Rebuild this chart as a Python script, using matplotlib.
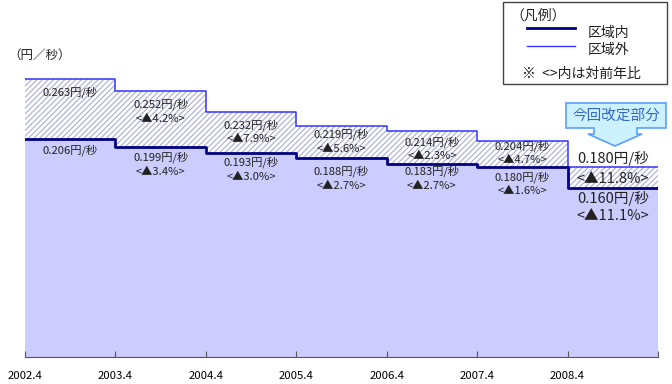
import numpy as np
import matplotlib
matplotlib.use("Agg")
import matplotlib.pyplot as plt
from matplotlib.patches import Polygon, Rectangle
from matplotlib.lines import Line2D

plt.rcParams['font.family'] = ['Noto Sans CJK JP', 'DejaVu Sans']
plt.rcParams['hatch.linewidth'] = 0.8

# data (yen per second)
periods = ['2002.4', '2003.4', '2004.4', '2005.4', '2006.4', '2007.4', '2008.4']
inner = [0.206, 0.199, 0.193, 0.188, 0.183, 0.180, 0.160]
outer = [0.263, 0.252, 0.232, 0.219, 0.214, 0.204, 0.180]
inner_chg = [None, '3.4', '3.0', '2.7', '2.7', '1.6', '11.1']
outer_chg = [None, '4.2', '7.9', '5.6', '2.3', '4.7', '11.8']

# label drop below each step line (pixels), as placed in the original
outer_drop = [13, 14, 13, 8.5, 11, 4.5]
inner_drop = [11, 11, 9, 13, 8, 10]

W, H = 672, 384
fig = plt.figure(figsize=(W / 100, H / 100), dpi=100)
PT = 0.72  # points per pixel at 100 dpi


def fx(x):
    return x / W


def fy(y):
    return 1 - y / H


ax = fig.add_axes([fx(25), fy(357), fx(658) - fx(25), fy(40) - fy(357)])

n = len(inner)
x = np.arange(n + 1)
yin = np.append(inner, inner[-1])
yout = np.append(outer, outer[-1])

ax.fill_between(x, 0, yin, step='post', color='#ccccff', lw=0)
ax.fill_between(x, yin, yout, step='post', facecolor='white',
                edgecolor='#a8acd8', hatch='//////', lw=0)
ax.step(x, yout, where='post', color='#3333ff', lw=1.1)
ax.step(x, yin, where='post', color='#000080', lw=2)

ax.set_xlim(0, n)
ax.set_ylim(0, 0.30)
for s in ['top', 'left', 'right']:
    ax.spines[s].set_visible(False)
ax.spines['bottom'].set_color('#555555')
ax.set_yticks([])
ax.set_xticks(np.arange(n + 1))
ax.set_xticklabels(periods + [''])
ax.tick_params(axis='x', direction='in', length=4, color='#555555',
               labelsize=8.2, pad=10)


def put(xc, yv, drop, text, size):
    ax.annotate(text, (xc, yv), xytext=(0, -drop * PT), textcoords='offset points',
                ha='center', va='center', fontsize=size, color='#222222')


# value labels
for i in range(n - 1):
    put(i + 0.5, outer[i], outer_drop[i], f'{outer[i]:.3f}円/秒', 8.1)
    put(i + 0.5, inner[i], inner_drop[i], f'{inner[i]:.3f}円/秒', 8.1)
    if outer_chg[i] is not None:
        put(i + 0.5, outer[i], outer_drop[i] + 14.5, f'<▲{outer_chg[i]}%>', 8.1)
        put(i + 0.5, inner[i], inner_drop[i] + 14.5, f'<▲{inner_chg[i]}%>', 8.1)

k = n - 1
put(k + 0.5, outer[k], -8, f'{outer[k]:.3f}円/秒', 10.5)
put(k + 0.5, outer[k], 12.5, f'<▲{outer_chg[k]}%>', 10.5)
put(k + 0.5, inner[k], 11, f'{inner[k]:.3f}円/秒', 10.5)
put(k + 0.5, inner[k], 28, f'<▲{inner_chg[k]}%>', 10.5)

# unit label
fig.text(fx(8), fy(55), '（円／秒）', fontsize=9, ha='left', va='center', color='#222222')

# callout
call = [(566, 103), (666, 103), (666, 128), (637, 128), (637, 134), (642, 134),
        (615, 146), (588, 134), (594, 134), (594, 128), (566, 128)]
fig.patches.append(Polygon([(fx(a), fy(b)) for a, b in call], closed=True,
                           transform=fig.transFigure, facecolor='#ccf2ff',
                           edgecolor='#5aa0ff', lw=1.2))
fig.text(fx(616), fy(116), '今回改定部分', fontsize=10.5, ha='center', va='center',
         color='#3366cc')

# legend box
fig.patches.append(Rectangle((fx(503), fy(84)), fx(667) - fx(503), fy(2) - fy(84),
                             transform=fig.transFigure, facecolor='white',
                             edgecolor='#444444', lw=1))
fig.text(fx(510), fy(16), '（凡例）', fontsize=10, ha='left', va='center', color='#222222')
fig.lines.append(Line2D([fx(527), fx(575)], [fy(28), fy(28)], transform=fig.transFigure,
                        color='#000080', lw=2))
fig.text(fx(588), fy(33), '区域内', fontsize=10, ha='left', va='center', color='#222222')
fig.lines.append(Line2D([fx(527), fx(575)], [fy(46), fy(46)], transform=fig.transFigure,
                        color='#3333ff', lw=1))
fig.text(fx(588), fy(50), '区域外', fontsize=10, ha='left', va='center', color='#222222')
fig.text(fx(522), fy(74), '※  <>内は対前年比', fontsize=10, ha='left', va='center', color='#222222')

fig.savefig('out.png', dpi=100)
